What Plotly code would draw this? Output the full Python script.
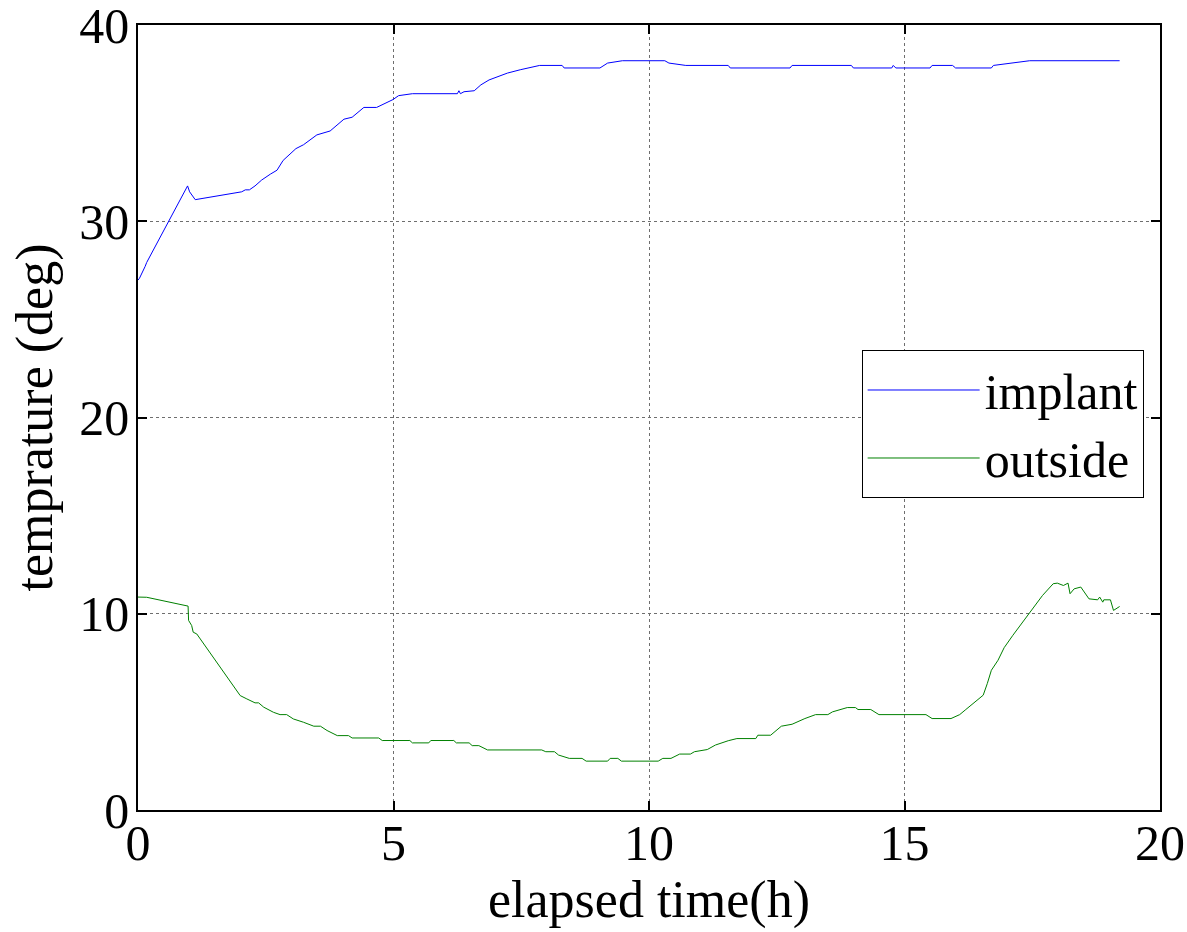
import plotly.graph_objects as go

# ---- data ----
impl_t = [0.0, 0.03, 0.14, 0.17, 0.97, 1.01, 1.12, 2.03, 2.10, 2.18, 2.29, 2.42, 2.59, 2.72, 2.84,
          3.09, 3.24, 3.50, 3.76, 4.03, 4.19, 4.42, 4.67, 4.99, 5.10, 5.37, 6.25, 6.28, 6.31, 6.38,
          6.58, 6.71, 6.87, 7.03, 7.23, 7.48, 7.86, 8.30, 8.34, 9.04, 9.19, 9.48, 10.31, 10.39, 10.72,
          11.55, 11.59, 12.76, 12.80, 13.96, 14.00, 14.75, 14.78, 14.83, 15.50, 15.54, 15.94, 16.00,
          16.70, 16.74, 17.16, 17.45, 19.21]
impl_v = [27.0, 27.1, 27.7, 27.9, 31.8, 31.5, 31.1, 31.5, 31.6, 31.6, 31.8, 32.1, 32.4, 32.6, 33.1,
          33.7, 33.9, 34.4, 34.6, 35.2, 35.3, 35.8, 35.8, 36.2, 36.4, 36.5, 36.5, 36.65, 36.5, 36.6,
          36.65, 36.95, 37.2, 37.35, 37.55, 37.72, 37.94, 37.94, 37.81, 37.81, 38.06, 38.18, 38.18,
          38.06, 37.94, 37.94, 37.81, 37.81, 37.94, 37.94, 37.81, 37.81, 37.94, 37.81, 37.81, 37.94,
          37.94, 37.81, 37.81, 37.94, 38.06, 38.18, 38.18]

out_t = [0.0, 0.17, 0.98, 0.99, 1.05, 1.08, 1.15, 1.87, 2.0, 2.13, 2.29, 2.36, 2.46, 2.65, 2.78,
         2.91, 3.04, 3.24, 3.44, 3.57, 3.70, 3.90, 4.12, 4.19, 4.71, 4.78, 5.32, 5.37, 5.69, 5.73,
         6.18, 6.23, 6.48, 6.54, 6.67, 6.84, 7.90, 7.98, 8.15, 8.23, 8.44, 8.69, 8.77, 9.19, 9.24,
         9.39, 9.46, 10.18, 10.27, 10.43, 10.51, 10.60, 10.81, 10.89, 11.14, 11.30, 11.55, 11.72,
         12.09, 12.13, 12.38, 12.59, 12.80, 13.05, 13.26, 13.50, 13.59, 13.75, 13.88, 14.04, 14.09,
         14.34, 14.50, 15.42, 15.54, 15.91, 16.08, 16.20, 16.54, 16.62, 16.70, 16.83, 16.95, 17.12,
         17.37, 17.53, 17.70, 17.91, 17.99, 18.11, 18.20, 18.24, 18.32, 18.45, 18.61, 18.78, 18.82,
         18.88, 18.90, 19.03, 19.09, 19.21]
out_v = [10.85, 10.84, 10.39, 9.66, 9.40, 9.06, 8.97, 6.26, 5.83, 5.66, 5.46, 5.46, 5.24, 4.98, 4.86,
         4.86, 4.64, 4.47, 4.27, 4.27, 4.05, 3.79, 3.79, 3.67, 3.67, 3.54, 3.54, 3.42, 3.42, 3.54,
         3.54, 3.42, 3.42, 3.28, 3.28, 3.06, 3.06, 2.97, 2.97, 2.80, 2.63, 2.63, 2.49, 2.49, 2.63,
         2.63, 2.49, 2.49, 2.63, 2.63, 2.75, 2.85, 2.85, 2.97, 3.08, 3.31, 3.53, 3.64, 3.64, 3.81,
         3.81, 4.27, 4.37, 4.66, 4.86, 4.86, 5.0, 5.12, 5.22, 5.22, 5.12, 5.12, 4.86, 4.86, 4.66,
         4.66, 4.86, 5.12, 5.85, 6.44, 7.12, 7.63, 8.27, 8.90, 9.75, 10.34, 10.93, 11.53, 11.56,
         11.44, 11.56, 11.02, 11.27, 11.36, 10.76, 10.71, 10.85, 10.59, 10.71, 10.71, 10.17, 10.37]

series_names = ["implant", "outside"]
series_colors = ["#0000FF", "#008000"]
x_ticks = [0, 5, 10, 15, 20]
y_ticks = [0, 10, 20, 30, 40]
x_title = "elapsed time(h)"
y_title = "temprature (deg)"

FONT = "Liberation Serif, Times New Roman, serif"

fig = go.Figure()
for name, tx, vy, col in [(series_names[0], impl_t, impl_v, series_colors[0]),
                           (series_names[1], out_t, out_v, series_colors[1])]:
    fig.add_trace(go.Scatter(x=tx, y=vy, mode="lines", name=name,
                             line=dict(color=col, width=1)))

axis_common = dict(
    showline=True, linecolor="black", linewidth=1.5, mirror="ticks",
    ticks="inside", ticklen=9, tickcolor="black", tickwidth=1.5,
    showgrid=True, gridcolor="#6e6e6e", griddash="dot", gridwidth=1,
    zeroline=False, tickfont=dict(family=FONT, size=50, color="black"),
    ticklabeloverflow="allow",
)

fig.update_xaxes(range=[0, 20], tickvals=x_ticks, ticktext=[str(v) for v in x_ticks],
                 ticklabelstandoff=-12,
                 title=dict(text=x_title, font=dict(family=FONT, size=52, color="black"), standoff=0),
                 **axis_common)
fig.update_yaxes(range=[0, 40], tickvals=y_ticks, ticktext=[str(v) for v in y_ticks],
                 ticklabelstandoff=-3,
                 title=dict(text=y_title, font=dict(family=FONT, size=52, color="black"), standoff=10),
                 **axis_common)

fig.update_layout(
    width=1187, height=932,
    margin=dict(l=138, r=27, t=25, b=122, autoexpand=False),
    paper_bgcolor="white", plot_bgcolor="white",
    font=dict(family=FONT, size=50, color="black"),
    legend=dict(x=0.984, y=0.586, xanchor="right", yanchor="top",
                bordercolor="black", borderwidth=1, bgcolor="white",
                font=dict(family=FONT, size=50, color="black"),
                itemwidth=112, tracegroupgap=0),
    showlegend=True,
)

fig.write_html("out.html", config={"displayModeBar": False},
               post_script="document.body.style.margin='0';document.body.style.overflow='hidden';")
